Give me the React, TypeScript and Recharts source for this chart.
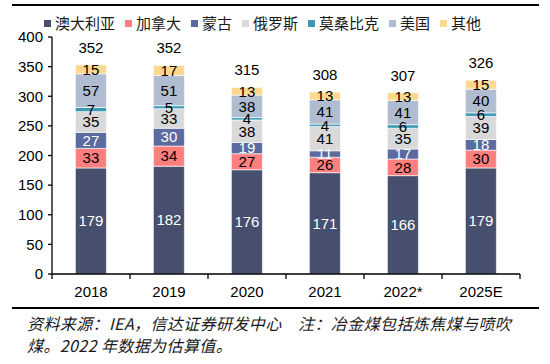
import { BarChart, Bar, XAxis, YAxis, LabelList } from "recharts";

const years = ["2018", "2019", "2020", "2021", "2022*", "2025E"];
const australia = [179, 182, 176, 171, 166, 179];
const canada = [33, 34, 27, 26, 28, 30];
const mongolia = [27, 30, 19, 11, 17, 18];
const russia = [35, 33, 38, 41, 35, 39];
const mozambique = [7, 5, 4, 4, 6, 6];
const usa = [57, 51, 38, 41, 41, 40];
const others = [15, 17, 13, 13, 13, 15];
const totals = [352, 352, 315, 308, 307, 326];
const yTicks = [0, 50, 100, 150, 200, 250, 300, 350, 400];

const series = [
  { key: "aus", name: "澳大利亚", values: australia, color: "#46506E", text: "#fff" },
  { key: "can", name: "加拿大", values: canada, color: "#FF7F7F", text: "#000" },
  { key: "mng", name: "蒙古", values: mongolia, color: "#5B6BA0", text: "#fff" },
  { key: "rus", name: "俄罗斯", values: russia, color: "#D9D9D9", text: "#000" },
  { key: "moz", name: "莫桑比克", values: mozambique, color: "#3E9AB4", text: "#000" },
  { key: "usa", name: "美国", values: usa, color: "#B0BCD0", text: "#000" },
  { key: "oth", name: "其他", values: others, color: "#FFD890", text: "#000" },
];

const data = years.map((year, i) => {
  const row: Record<string, string | number> = { year, total: totals[i] };
  series.forEach((s) => (row[s.key] = s.values[i]));
  return row;
});

const NUM_FONT = "'Liberation Sans', Arial, sans-serif";
const CJK_FONT = "'Noto Sans CJK SC', sans-serif";
const BAND = (520 - 52) / years.length;

function XTick(props: any) {
  const { x, y, payload, index } = props;
  const lineY = y - 8;
  return (
    <g>
      <line x1={x - BAND / 2} x2={x - BAND / 2} y1={lineY} y2={lineY + 5} stroke="#000" strokeWidth={1.3} />
      {index === years.length - 1 && (
        <line x1={x + BAND / 2} x2={x + BAND / 2} y1={lineY} y2={lineY + 5} stroke="#000" strokeWidth={1.3} />
      )}
      <text x={x} y={y + 4} dy="0.71em" textAnchor="middle" fontSize={15} fontFamily={NUM_FONT} fill="#000">
        {payload.value}
      </text>
    </g>
  );
}

export default function App() {
  return (
    <div style={{ position: "absolute", left: 0, top: 0, width: 550, height: 364, background: "#fff" }}>
      <div style={{ position: "absolute", left: 12, top: 4, width: 527, height: 2, background: "#000" }} />
      <div
        style={{
          position: "absolute",
          left: 44,
          top: 13,
          display: "flex",
          fontFamily: CJK_FONT,
          fontSize: 15,
          lineHeight: "20px",
          color: "#1a1a1a",
        }}
      >
        {series.map((s) => (
          <div key={s.key} style={{ display: "flex", alignItems: "center", marginRight: 10 }}>
            <span style={{ width: 7, height: 7, background: s.color, marginRight: 4, display: "inline-block" }} />
            {s.name}
          </div>
        ))}
      </div>
      <BarChart
        width={550}
        height={364}
        data={data}
        margin={{ top: 37, right: 30, bottom: 60, left: 0 }}
        barCategoryGap="30%"
      >
        <YAxis
          width={52}
          domain={[0, 400]}
          ticks={yTicks}
          interval={0}
          tickSize={4}
          tickMargin={5}
          axisLine={{ stroke: "#000", strokeWidth: 1.3 }}
          tickLine={{ stroke: "#000", strokeWidth: 1.3 }}
          tick={{ fontSize: 15, fill: "#000", fontFamily: NUM_FONT }}
        />
        <XAxis
          dataKey="year"
          height={30}
          interval={0}
          axisLine={{ stroke: "#000", strokeWidth: 1.3 }}
          tickLine={false}
          tick={<XTick />}
        />
        {series.map((s, i) => (
          <Bar
            key={s.key}
            dataKey={s.key}
            name={s.name}
            stackId="a"
            fill={s.color}
            stroke="#fff"
            strokeWidth={0.6}
            isAnimationActive={false}
          >
            <LabelList
              dataKey={s.key}
              position="center"
              fill={s.text}
              fontSize={15}
              fontFamily={NUM_FONT}
            />
            {i === series.length - 1 && (
              <LabelList
                dataKey="total"
                position="top"
                offset={12}
                fill="#000"
                fontSize={15}
                fontFamily={NUM_FONT}
              />
            )}
          </Bar>
        ))}
      </BarChart>
      <div style={{ position: "absolute", left: 12, top: 307, width: 527, height: 2, background: "#000" }} />
      <div
        style={{
          position: "absolute",
          left: 27,
          top: 312,
          fontFamily: CJK_FONT,
          fontStyle: "italic",
          fontSize: 16,
          letterSpacing: 0.4,
          lineHeight: "22px",
          color: "#1a1a1a",
          whiteSpace: "nowrap",
        }}
      >
        <div>资料来源：IEA，信达证券研发中心　注：冶金煤包括炼焦煤与喷吹</div>
        <div>煤。2022 年数据为估算值。</div>
      </div>
    </div>
  );
}
